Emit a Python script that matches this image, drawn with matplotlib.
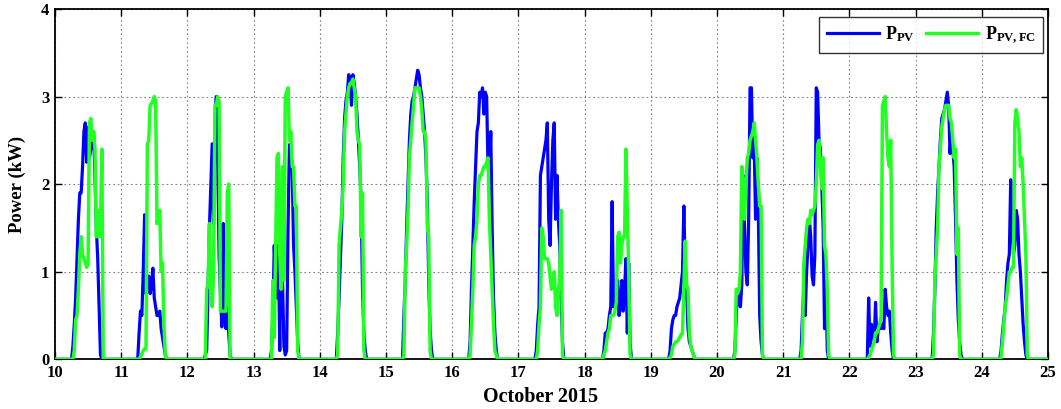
import numpy as np
import matplotlib
matplotlib.use("Agg")
import matplotlib.pyplot as plt

plt.rcParams["font.family"] = ["Liberation Serif", "DejaVu Serif"]
plt.rcParams["font.weight"] = "bold"
plt.rcParams["mathtext.fontset"] = "custom"
plt.rcParams["mathtext.rm"] = "Liberation Serif:bold"
plt.rcParams["mathtext.bf"] = "Liberation Serif:bold"
plt.rcParams["mathtext.it"] = "Liberation Serif:bold"

# Days of October 2015 and half-hourly sample times within each day (hours)
days = list(range(10, 25))
hours = [6.0, 6.5, 7.0, 7.5, 8.0, 8.5, 9.0, 9.5, 10.0, 10.5, 11.0, 11.5,
         12.0, 12.5, 13.0, 13.5, 14.0, 14.5, 15.0, 15.5, 16.0, 16.5, 17.0, 17.5]

# Measured PV power (kW), one row per day
p_pv = [
    [0, 0.15, 0.4, 0.7, 1.15, 1.6, 1.9, 1.9, 2.2, 2.6, 2.7, 2.25, 2.65, 2.3, 2.4, 2.5, 2.6, 2.1, 1.5, 1.15, 0.6, 0.05, 0, 0],
    [0, 0.3, 0.55, 0.5, 1.0, 1.65, 0.75, 0.9, 0.95, 0.75, 0.85, 1.04, 0.7, 0.6, 0.5, 0.5, 0.55, 0.35, 0.25, 0.15, 0.05, 0, 0, 0],
    [0, 0.05, 0.1, 0.8, 1.5, 2.0, 2.46, 1.55, 2.65, 3.0, 2.3, 1.2, 0.75, 0.37, 1.55, 0.5, 0.35, 0.6, 0.3, 0.05, 0, 0, 0, 0],
    [0, 0.1, 0.5, 1.3, 0.9, 0.7, 1.3, 0.1, 1.9, 0.9, 0.15, 0.05, 0.1, 1.5, 2.45, 2.45, 2.2, 1.3, 1.0, 0.6, 0.2, 0, 0, 0],
    [0, 0.3, 0.7, 1.15, 1.6, 2.3, 2.75, 2.95, 3.05, 3.25, 3.2, 2.9, 3.25, 3.15, 3.0, 2.8, 2.5, 2.2, 1.8, 0.8, 0.3, 0.1, 0, 0],
    [0, 0.5, 0.9, 1.5, 2.0, 2.5, 2.8, 2.95, 3.0, 3.1, 3.2, 3.3, 3.25, 3.1, 3.0, 2.8, 2.6, 2.3, 1.8, 0.9, 0.35, 0.1, 0, 0],
    [0, 0.2, 0.8, 1.3, 1.8, 2.2, 2.6, 2.7, 3.05, 3.0, 3.1, 2.8, 3.05, 3.0, 2.2, 2.1, 2.6, 1.5, 0.7, 0.3, 0.1, 0, 0, 0],
    [0, 0.1, 0.4, 0.6, 2.1, 2.2, 2.3, 2.4, 2.5, 2.7, 1.6, 1.3, 2.0, 2.5, 2.7, 1.6, 2.1, 1.6, 1.3, 0.7, 0.2, 0, 0, 0],
    [0, 0, 0.1, 0.3, 0.3, 0.35, 0.5, 0.6, 1.8, 0.6, 0.6, 0.7, 0.9, 0.5, 0.6, 0.9, 0.55, 0.8, 1.15, 0.3, 1.1, 0.2, 0, 0],
    [0, 0, 0.1, 0.35, 0.45, 0.5, 0.5, 0.6, 0.65, 0.7, 0.85, 1.0, 1.75, 1.0, 0.8, 0.35, 0.2, 0.15, 0.1, 0.05, 0, 0, 0, 0],
    [0, 0.1, 0.5, 0.8, 0.65, 0.6, 0.85, 2.1, 1.5, 1.0, 0.85, 1.6, 3.1, 3.1, 2.3, 2.45, 1.6, 2.3, 1.7, 0.5, 0.2, 0.05, 0, 0],
    [0, 0.1, 0.5, 0.8, 0.5, 1.0, 1.3, 1.6, 1.4, 0.95, 0.85, 1.2, 3.1, 3.05, 2.5, 2.4, 2.0, 1.5, 0.35, 0.9, 0.1, 0, 0, 0],
    [0, 0, 0.7, 0.15, 0.4, 0.3, 0.2, 0.65, 0.2, 0.35, 0.4, 0.35, 0.4, 0.35, 0.8, 0.6, 0.5, 0.55, 0.3, 0.1, 0, 0, 0, 0],
    [0, 0.3, 0.8, 1.5, 1.9, 2.2, 2.5, 2.75, 2.8, 2.85, 2.95, 3.05, 2.9, 2.35, 2.6, 2.4, 2.2, 1.6, 0.9, 0.45, 0.2, 0.05, 0, 0],
    [0, 0, 0.1, 0.3, 0.45, 0.6, 0.9, 1.1, 1.2, 2.05, 1.5, 1.2, 1.3, 1.7, 1.6, 1.2, 1.0, 0.7, 0.4, 0.2, 0.05, 0, 0, 0],
]

# Forecast PV power (kW), one row per day
p_pv_fc = [
    [0, 0, 0.1, 0.45, 0.5, 0.8, 1.2, 1.4, 1.2, 1.15, 1.1, 1.05, 1.1, 2.7, 2.75, 2.5, 2.6, 2.4, 1.4, 1.7, 1.4, 1.5, 2.4, 0],
    [0, 0, 0.03, 0.06, 0.1, 0.12, 0.12, 2.45, 2.5, 2.9, 2.92, 2.95, 3.0, 2.95, 1.55, 1.65, 1.7, 1.0, 1.1, 0.4, 0.05, 0, 0, 0],
    [0, 0, 0.8, 0.85, 1.55, 0.7, 0.6, 1.0, 2.9, 2.9, 3.0, 2.95, 0.55, 0.55, 0.55, 0.55, 0.55, 1.9, 2.0, 0, 0, 0, 0, 0],
    [0, 0, 0.9, 0.25, 1.3, 2.3, 2.35, 1.2, 0.8, 2.2, 0.9, 3.0, 3.05, 3.1, 2.5, 2.6, 2.2, 2.2, 1.75, 1.75, 0.1, 0, 0, 0],
    [0, 0.05, 1.3, 1.5, 1.7, 2.0, 2.6, 2.8, 3.0, 3.1, 3.15, 3.15, 3.2, 3.1, 3.0, 2.6, 2.5, 2.45, 1.4, 1.9, 0.1, 0, 0, 0],
    [0, 0.05, 1.0, 1.3, 1.7, 2.3, 2.5, 2.7, 2.9, 3.1, 3.1, 3.1, 3.1, 3.0, 2.85, 2.6, 2.6, 2.5, 1.5, 1.4, 0.1, 0, 0, 0],
    [0, 0.05, 0.4, 0.8, 1.3, 1.4, 1.6, 2.0, 2.1, 2.1, 2.15, 2.2, 2.2, 2.25, 2.3, 1.6, 1.2, 0.8, 0.4, 0.1, 0.05, 0, 0, 0],
    [0, 0, 0.1, 0.4, 0.6, 1.5, 1.4, 1.15, 1.15, 1.15, 1.1, 0.95, 0.8, 0.9, 1.0, 0.6, 0.5, 0.8, 0.9, 1.7, 0.05, 0, 0, 0],
    [0, 0, 0.05, 0.1, 0.2, 0.3, 0.35, 0.5, 0.5, 0.5, 0.55, 0.65, 1.4, 1.45, 1.1, 1.3, 1.4, 1.4, 2.4, 1.7, 1.0, 0.05, 0, 0],
    [0, 0, 0.02, 0.05, 0.15, 0.17, 0.2, 0.2, 0.22, 0.25, 0.28, 0.3, 0.8, 1.35, 0.85, 0.8, 0.3, 0.15, 0.1, 0.05, 0, 0, 0, 0],
    [0, 0.05, 0.8, 0.75, 0.8, 1.0, 2.2, 2.0, 1.6, 2.0, 2.3, 2.35, 2.5, 2.55, 2.6, 2.7, 2.5, 2.3, 2.0, 1.75, 1.75, 0.05, 0, 0],
    [0, 0, 0.2, 1.1, 1.3, 1.5, 1.6, 1.55, 1.7, 1.65, 1.7, 1.75, 2.0, 2.45, 2.5, 2.2, 1.95, 2.3, 1.3, 1.2, 0.8, 0.05, 0, 0],
    [0, 0, 0.02, 0.05, 0.1, 0.15, 0.2, 0.3, 0.3, 0.35, 0.4, 0.5, 2.9, 2.95, 3.0, 2.6, 2.3, 2.2, 2.5, 1.1, 0.05, 0, 0, 0],
    [0, 0.05, 0.9, 1.2, 1.5, 2.2, 2.4, 2.65, 2.75, 2.85, 2.9, 2.9, 2.9, 2.75, 2.7, 2.5, 2.3, 2.4, 1.2, 1.5, 0.05, 0, 0, 0],
    [0, 0, 0.02, 0.2, 0.4, 0.6, 0.7, 0.85, 1.0, 1.0, 1.05, 1.05, 2.7, 2.85, 2.75, 2.6, 2.2, 2.3, 2.0, 1.6, 1.2, 0.05, 0, 0],
]

x_ticks = list(range(10, 26))
y_ticks = [0, 1, 2, 3, 4]


def build_series(profiles):
    t = [days[0]]
    p = [0.0]
    for d, row in zip(days, profiles):
        t.extend(d + np.asarray(hours) / 24.0)
        p.extend(row)
    t.append(x_ticks[-1])
    p.append(0.0)
    return np.asarray(t), np.asarray(p)


t_pv, v_pv = build_series(p_pv)
t_fc, v_fc = build_series(p_pv_fc)

fig = plt.figure(figsize=(10.61, 4.09), dpi=100)
ax = fig.add_axes([0.0518, 0.1215, 0.9359, 0.8565])

ax.plot(t_pv, v_pv, color="#0000ff", lw=2.3, label=r"$\mathbf{P_{PV}}$", zorder=3)
ax.plot(t_fc, v_fc, color="#22ff22", lw=2.5, label=r"$\mathbf{P_{PV,FC}}$", zorder=4)

ax.set_xlim(10, 25)
ax.set_ylim(0, 4)
ax.set_xticks(x_ticks)
ax.set_yticks(y_ticks)
ax.grid(True, color="#808080", linestyle=(0, (1.5, 2.5)), linewidth=0.8)
ax.tick_params(direction="in", top=True, right=True, length=5, width=1,
               labelsize=12, pad=4)
for lbl in ax.get_xticklabels() + ax.get_yticklabels():
    lbl.set_fontweight("bold")
for sp in ax.spines.values():
    sp.set_linewidth(1.3)

ax.set_xlabel("October 2015", fontsize=14.5, fontweight="bold")
ax.xaxis.set_label_coords(0.4894, -0.079)
ax.set_ylabel("Power (kW)", fontsize=13.5, fontweight="bold")
ax.yaxis.set_label_coords(-0.029, 0.5)

leg = ax.legend(loc="upper right", ncol=2, fontsize=13, frameon=True,
                fancybox=False, edgecolor="black", handlelength=2.9,
                columnspacing=0.6, handletextpad=0.35,
                borderpad=0.4, borderaxespad=0.0,
                bbox_to_anchor=(0.995, 0.977))
leg.get_frame().set_linewidth(1.0)

fig.savefig("out.png", dpi=100)
